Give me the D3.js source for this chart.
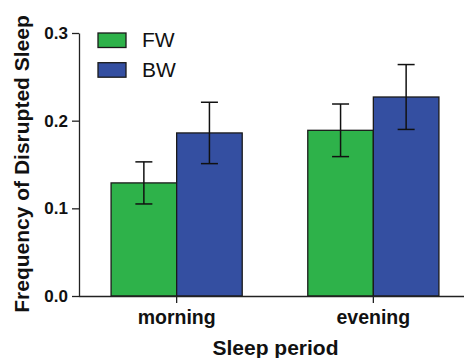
<!DOCTYPE html>
<html>
<head>
<meta charset="utf-8">
<script src="https://cdn.jsdelivr.net/npm/d3@7"></script>
<style>
    body { margin: 0; background: #fff; }
    svg { display: block; font-family: "Liberation Sans", Arial, sans-serif; }
</style>
</head>
<body>
<svg id="chart" width="464" height="358"></svg>
<script>
// data
const periods = ["morning", "evening"]
const groups = ["FW", "BW"]
const fwMean = [0.129, 0.189]
const fwErr = [0.024, 0.030]
const bwMean = [0.186, 0.227]
const bwErr = [0.035, 0.037]
const yTicks = [0.0, 0.1, 0.2, 0.3]
const colors = ["#2eb24a", "#344fa1"]

const svg = d3.select("#chart")

const x0 = d3.scaleBand().domain(periods).range([78.3, 471.7]).padding(0)
const x1 = d3.scaleBand().domain(groups).range([0, x0.bandwidth()]).paddingInner(0).paddingOuter(0.5)
const y = d3.scaleLinear().domain([0, 0.3]).range([296, 33])

const rows = []
for (let i = 0; i < periods.length; i++) {
    rows.push({period: periods[i], group: "FW", v: fwMean[i], e: fwErr[i]})
    rows.push({period: periods[i], group: "BW", v: bwMean[i], e: bwErr[i]})
}
const color = d3.scaleOrdinal().domain(groups).range(colors)

// bars
svg.append("g").selectAll("rect")
    .data(rows)
    .join("rect")
    .attr("x", d => x0(d.period) + x1(d.group))
    .attr("y", d => y(d.v))
    .attr("width", x1.bandwidth())
    .attr("height", d => y(0) - y(d.v))
    .attr("fill", d => color(d.group))
    .attr("stroke", "#1a1a1a")
    .attr("stroke-width", 1.3)

// error bars
const capW = 17
const eb = svg.append("g").attr("stroke", "#111").attr("stroke-width", 1.5)
rows.forEach(d => {
    const cx = x0(d.period) + x1(d.group) + x1.bandwidth() / 2
    eb.append("line").attr("x1", cx).attr("x2", cx).attr("y1", y(d.v + d.e)).attr("y2", y(d.v - d.e))
    eb.append("line").attr("x1", cx - capW / 2).attr("x2", cx + capW / 2).attr("y1", y(d.v + d.e)).attr("y2", y(d.v + d.e))
    eb.append("line").attr("x1", cx - capW / 2).attr("x2", cx + capW / 2).attr("y1", y(d.v - d.e)).attr("y2", y(d.v - d.e))
})

// y axis
const yAxis = svg.append("g")
    .attr("transform", "translate(79,0)")
    .call(d3.axisLeft(y).tickValues(yTicks).tickFormat(d3.format(".1f")).tickSize(7).tickSizeOuter(0).tickPadding(4))
yAxis.selectAll("text").attr("font-size", 17).attr("font-weight", "bold").attr("fill", "#111").attr("font-family", "Liberation Sans, Arial, sans-serif")
yAxis.selectAll("line, path").attr("stroke", "#222").attr("stroke-width", 1.3)

// x axis
const xAxis = svg.append("g")
    .attr("transform", "translate(0,296)")
    .call(d3.axisBottom(x0).tickSize(7).tickSizeOuter(0).tickPadding(7))
xAxis.select(".domain").attr("d", "M79,0.5H464")
xAxis.selectAll("text").attr("font-size", 19.5).attr("font-weight", "bold").attr("fill", "#111").attr("font-family", "Liberation Sans, Arial, sans-serif")
xAxis.selectAll("line, path").attr("stroke", "#222").attr("stroke-width", 1.3)

// axis titles
svg.append("text")
    .attr("x", 275.5).attr("y", 355)
    .attr("text-anchor", "middle")
    .attr("font-size", 21).attr("font-weight", "bold").attr("fill", "#111")
    .text("Sleep period")

svg.append("text")
    .attr("transform", "translate(29,164) rotate(-90)")
    .attr("text-anchor", "middle")
    .attr("font-size", 21).attr("font-weight", "bold").attr("fill", "#111")
    .text("Frequency of Disrupted Sleep")

// legend
const leg = svg.append("g").attr("transform", "translate(98,33)")
groups.forEach((g, i) => {
    leg.append("rect")
        .attr("x", 0).attr("y", i * 29.7)
        .attr("width", 28).attr("height", 14.5)
        .attr("fill", color(g)).attr("stroke", "#1a1a1a").attr("stroke-width", 1.3)
    leg.append("text")
        .attr("x", 44).attr("y", i * 29.7 + 14)
        .attr("font-size", 21).attr("fill", "#111")
        .text(g)
})
</script>
</body>
</html>
